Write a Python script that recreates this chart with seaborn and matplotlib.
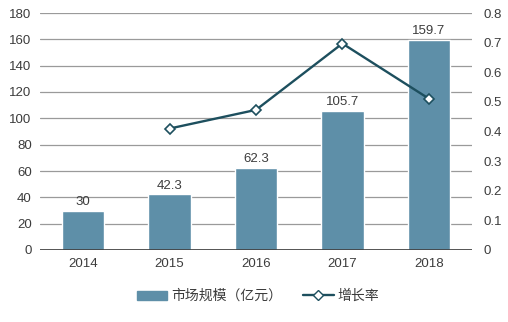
import matplotlib
matplotlib.use("Agg")
import matplotlib.pyplot as plt
from matplotlib.lines import Line2D
from matplotlib.patches import Patch
import seaborn as sns
import pandas as pd

years = ["2014", "2015", "2016", "2017", "2018"]
market_size = [30, 42.3, 62.3, 105.7, 159.7]
growth_years = ["2015", "2016", "2017", "2018"]
growth_rate = [0.41, 0.473, 0.697, 0.511]
bar_label = "市场规模（亿元）"
line_label = "增长率"
left_ticks = [0, 20, 40, 60, 80, 100, 120, 140, 160, 180]
right_ticks = [0, 0.1, 0.2, 0.3, 0.4, 0.5, 0.6, 0.7, 0.8]

sns.set_style("white")
plt.rcParams["font.family"] = ["Liberation Sans", "Noto Sans CJK SC", "DejaVu Sans"]

BAR = "#5e8fa8"
LINE = "#1d4f5e"
TXT = "#3c3c3c"
FS = 9.5

df_bar = pd.DataFrame({"year": years, "size": market_size})
df_line = pd.DataFrame({"year": growth_years, "rate": growth_rate})

fig = plt.figure(figsize=(5.08, 3.22), dpi=100)
ax = fig.add_axes([40 / 508, 72 / 322, 432 / 508, 237 / 322])

sns.barplot(data=df_bar, x="year", y="size", order=years, color=BAR,
            width=0.49, saturation=1, ax=ax, zorder=3)
ax.set_ylim(0, 180)
ax.set_yticks(left_ticks)
ax.set_xlim(-0.5, len(years) - 0.5)
ax.yaxis.grid(True, color="#9a9a9a", linewidth=0.9, zorder=0)
ax.set_axisbelow(True)
for s in ax.spines.values():
    s.set_visible(False)
ax.axhline(0, color="#3a3a3a", linewidth=1.2, zorder=4)
ax.set_xlabel("")
ax.set_ylabel("")
ax.tick_params(axis="both", length=0, labelsize=FS, labelcolor=TXT)
ax.tick_params(axis="y", pad=6)
ax.tick_params(axis="x", pad=6)

for cont in ax.containers:
    ax.bar_label(cont, labels=[f"{v:g}" for v in market_size], padding=2,
                 fontsize=FS, color=TXT)

ax2 = ax.twinx()
sns.pointplot(data=df_line, x="year", y="rate", order=years, color=LINE,
              markers="D", linewidth=1.7, markersize=5.5, ax=ax2,
              markerfacecolor="white", markeredgecolor=LINE,
              markeredgewidth=1.2)
ax2.set_xlim(-0.5, len(years) - 0.5)
ax2.set_ylim(0, 0.8)
ax2.set_yticks(right_ticks)
ax2.set_yticklabels([f"{t:g}" for t in right_ticks])
for s in ax2.spines.values():
    s.set_visible(False)
ax2.set_ylabel("")
ax2.set_xlabel("")
ax2.grid(False)
ax2.tick_params(axis="y", length=0, labelsize=FS, labelcolor=TXT, pad=8)

handles = [
    Patch(facecolor=BAR, edgecolor=BAR, label=bar_label),
    Line2D([0], [0], color=LINE, linewidth=1.7, marker="D", markersize=5,
           markerfacecolor="white", markeredgecolor=LINE, label=line_label),
]
fig.legend(handles=handles, loc="center", bbox_to_anchor=(258 / 508, 1 - 296 / 322),
           ncol=2, frameon=False, fontsize=10, handlelength=2.2,
           handleheight=0.6, columnspacing=1.5, handletextpad=0.3,
           labelcolor=TXT)

fig.savefig("out.png", dpi=100)
